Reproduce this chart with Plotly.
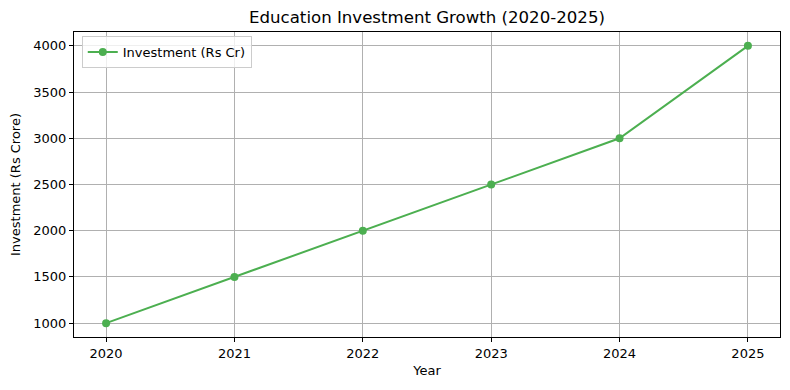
import plotly.graph_objects as go

years = [2020, 2021, 2022, 2023, 2024, 2025]
investment = [1000, 1500, 2000, 2500, 3000, 4000]
x_ticks = [2020, 2021, 2022, 2023, 2024, 2025]
y_ticks = [1000, 1500, 2000, 2500, 3000, 3500, 4000]

green = "#4caf50"
font = "DejaVu Sans"

fig = go.Figure()
fig.add_trace(go.Scatter(
    x=years, y=investment, mode="lines+markers",
    name="Investment (Rs Cr)",
    line=dict(color=green, width=2),
    marker=dict(color=green, size=8),
))

axis_common = dict(
    showline=True, linecolor="black", linewidth=1, mirror=True,
    ticks="outside", ticklen=4, tickcolor="black", tickwidth=1,
    showgrid=True, gridcolor="#b0b0b0", gridwidth=1,
    zeroline=False, tickfont=dict(family=font, size=13, color="black"),
    automargin=False,
)

fig.update_layout(
    width=790, height=390,
    margin=dict(l=66, r=18, t=24, b=61, autoexpand=False),
    plot_bgcolor="white", paper_bgcolor="white",
    title=dict(text="Education Investment Growth (2020-2025)", x=419/790, xanchor="center",
               xref="container",
               y=1 - 9/390, yanchor="middle",
               font=dict(family=font, size=16.6, color="black")),
    xaxis=dict(range=[2019.75, 2025.25], tickvals=x_ticks, ticktext=[str(v) for v in x_ticks],
               title=dict(text="Year", font=dict(family=font, size=13, color="black"), standoff=6),
               **axis_common),
    yaxis=dict(range=[850, 4150], tickvals=y_ticks, ticktext=[str(v) for v in y_ticks],
               title=dict(text="Investment (Rs Crore)", font=dict(family=font, size=13, color="black"), standoff=9),
               **axis_common),
    legend=dict(x=0.011, y=0.987, xanchor="left", yanchor="top",
                bgcolor="rgba(255,255,255,0.8)", bordercolor="#cccccc", borderwidth=1,
                font=dict(family=font, size=13, color="black")),
    showlegend=True,
)

fig.write_html("out.html")
